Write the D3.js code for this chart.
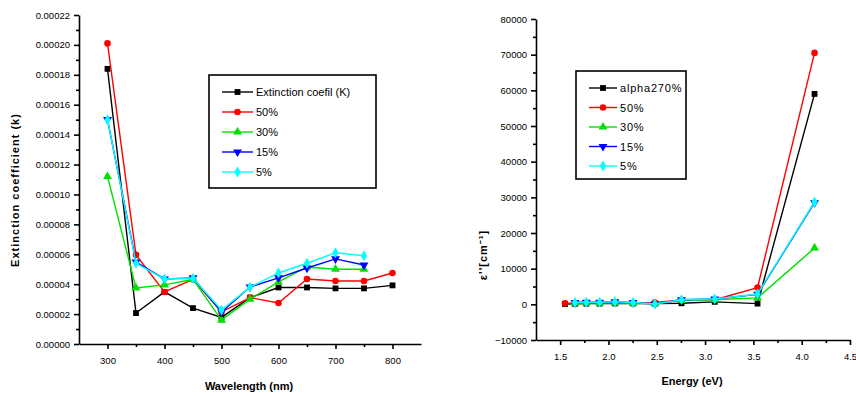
<!DOCTYPE html>
<html>
<head>
<meta charset="UTF-8">
<script src="https://d3js.org/d3.v7.min.js"></script>
<style>
  body { margin: 0; background: #fff; }
  svg { font-family: 'Liberation Sans', Arial, sans-serif; }
  .axis path, .axis line { stroke: #000; stroke-width: 1.6; }
  .axis text { font-size: 9.5px; fill: #000; }
</style>
</head>
<body>
<svg id="chart" width="856" height="397"></svg>
<script>
// left panel: extinction coefficient vs wavelength
const wavelengths = [300, 350, 400, 450, 500, 550, 600, 650, 700, 750, 800];
const kBlack = [0.000184, 0.0000207, 0.0000348, 0.000024, 0.0000178, 0.000031, 0.0000378, 0.0000378, 0.0000372, 0.0000372, 0.0000392];
const k50 = [0.000201, 0.0000596, 0.0000348, 0.0000432, 0.0000214, 0.000031, 0.0000274, 0.0000435, 0.0000421, 0.0000421, 0.0000475];
const k30 = [0.000112, 0.0000375, 0.0000395, 0.0000432, 0.000016, 0.00003, 0.0000415, 0.0000515, 0.00005, 0.00005];
const k15 = [0.00015, 0.0000548, 0.0000435, 0.0000442, 0.0000214, 0.0000381, 0.0000442, 0.0000508, 0.0000569, 0.0000528];
const k5 = [0.00015, 0.000054, 0.0000435, 0.000044, 0.0000227, 0.000038, 0.0000475, 0.000054, 0.000061, 0.000059];
const leftNames = ["Extinction coefil (K)", "50%", "30%", "15%", "5%"];
const leftYTicks = [0, 0.00002, 0.00004, 0.00006, 0.00008, 0.0001, 0.00012, 0.00014, 0.00016, 0.00018, 0.0002, 0.00022];
const leftXTicks = [300, 400, 500, 600, 700, 800];

// right panel: epsilon'' vs energy
const energies = [1.55, 1.653, 1.771, 1.908, 2.067, 2.255, 2.48, 2.756, 3.1, 3.543, 4.133];
const eBlack = [100, 150, 200, 200, 250, 250, 200, 300, 700, 200, 59000];
const e50 = [300, 300, 400, 400, 400, 300, 500, 1200, 1300, 4700, 70500];
const e30 = [300, 400, 400, 400, 300, 200, 1100, 1300, 1800, 15800];
const e15 = [500, 600, 600, 700, 500, 100, 1300, 1500, 2800, 28500];
const e5 = [500, 600, 600, 700, 500, 100, 1300, 1500, 2900, 28700];
const rightNames = ["alpha270%", "50%", "30%", "15%", "5%"];
const rightYTicks = [-10000, 0, 10000, 20000, 30000, 40000, 50000, 60000, 70000, 80000];
const rightXTicks = [1.5, 2.0, 2.5, 3.0, 3.5, 4.0, 4.5];

const colors = ["#000000", "#ff0000", "#00e000", "#0000ff", "#00ffff"];
const symbols = [d3.symbolSquare, d3.symbolCircle, d3.symbolTriangle, d3.symbolTriangle, d3.symbolDiamond];
const flips = [false, false, false, true, false];

const svg = d3.select("#chart");

function drawPanel(opt) {
  const x = d3.scaleLinear().domain(opt.xDomain).range(opt.xRange);
  const y = d3.scaleLinear().domain(opt.yDomain).range(opt.yRange);
  const g = svg.append("g");

  // minor ticks
  g.append("g").attr("class", "axis").attr("transform", `translate(0,${opt.yRange[0]})`)
    .call(d3.axisBottom(x).tickValues(opt.xMinor).tickSize(3).tickFormat(""))
    .select("path").remove();
  g.append("g").attr("class", "axis").attr("transform", `translate(${opt.xRange[0]},0)`)
    .call(d3.axisLeft(y).tickValues(opt.yMinor).tickSize(3).tickFormat(""))
    .select("path").remove();

  g.append("g").attr("class", "axis").attr("transform", `translate(0,${opt.yRange[0]})`)
    .call(d3.axisBottom(x).tickValues(opt.xTicks).tickSize(5).tickSizeOuter(0).tickFormat(opt.xFormat).tickPadding(8));
  g.append("g").attr("class", "axis").attr("transform", `translate(${opt.xRange[0]},0)`)
    .call(d3.axisLeft(y).tickValues(opt.yTicks).tickSize(5).tickSizeOuter(0).tickFormat(opt.yFormat).tickPadding(4));

  opt.series.forEach((s, i) => {
    const xs = opt.alignEnd ? opt.xs.slice(opt.xs.length - s.length) : opt.xs.slice(0, s.length);
    const pts = s.map((v, j) => [xs[j], v]);
    g.append("path")
      .attr("fill", "none")
      .attr("stroke", colors[i])
      .attr("stroke-width", 1.4)
      .attr("d", d3.line().x(d => x(d[0])).y(d => y(d[1]))(pts));
    g.selectAll(null).data(pts).enter().append("path")
      .attr("transform", d => `translate(${x(d[0])},${y(d[1])})${flips[i] ? " rotate(180)" : ""}`)
      .attr("d", d3.symbol().type(symbols[i]).size(34))
      .attr("fill", colors[i]);
  });

  // legend
  const lg = g.append("g");
  lg.append("rect")
    .attr("x", opt.legend.x).attr("y", opt.legend.y)
    .attr("width", opt.legend.w).attr("height", opt.legend.h)
    .attr("fill", "#fff").attr("stroke", "#000").attr("stroke-width", 1.6);
  opt.names.forEach((n, i) => {
    const ly = opt.legend.y + 17 + i * opt.legend.step;
    const lx = opt.legend.x + 13;
    lg.append("line").attr("x1", lx).attr("x2", lx + opt.legend.line)
      .attr("y1", ly).attr("y2", ly).attr("stroke", colors[i]).attr("stroke-width", 1.4);
    lg.append("path")
      .attr("transform", `translate(${lx + opt.legend.line / 2},${ly})${flips[i] ? " rotate(180)" : ""}`)
      .attr("d", d3.symbol().type(symbols[i]).size(34))
      .attr("fill", colors[i]);
    lg.append("text").attr("x", lx + opt.legend.line + 3).attr("y", ly + 4)
      .attr("font-size", 11).attr("letter-spacing", opt.legend.spacing)
      .text(n);
  });

  g.append("text")
    .attr("x", opt.xTitle.x).attr("y", opt.xTitle.y)
    .attr("text-anchor", "middle").attr("font-size", 11).attr("font-weight", "bold")
    .text(opt.xTitle.text);
  g.append("text")
    .attr("transform", `translate(${opt.yTitle.x},${opt.yTitle.y}) rotate(-90)`)
    .attr("text-anchor", "middle").attr("font-size", 11).attr("font-weight", "bold")
    .attr("letter-spacing", 1)
    .text(opt.yTitle.text);
}

drawPanel({
  xDomain: [250, 850], xRange: [79, 421],
  yDomain: [0, 0.00022], yRange: [344, 15],
  xTicks: leftXTicks, xMinor: [350, 450, 550, 650, 750],
  yTicks: leftYTicks, yMinor: leftYTicks.slice(0, -1).map(v => v + 0.00001),
  xFormat: d3.format("d"), yFormat: d3.format(".5f"),
  xs: wavelengths, alignEnd: false,
  series: [kBlack, k50, k30, k15, k5],
  names: leftNames,
  legend: { x: 209, y: 75, w: 167, h: 113, step: 20, line: 31, spacing: 0 },
  xTitle: { x: 249, y: 390, text: "Wavelength (nm)" },
  yTitle: { x: 19, y: 190, text: "Extinction coefficient (k)" }
});

drawPanel({
  xDomain: [1.25, 4.5], xRange: [536, 850],
  yDomain: [-10000, 80000], yRange: [340, 19],
  xTicks: rightXTicks, xMinor: [1.75, 2.25, 2.75, 3.25, 3.75, 4.25],
  yTicks: rightYTicks, yMinor: rightYTicks.slice(0, -1).map(v => v + 5000),
  xFormat: d3.format(".1f"), yFormat: d3.format("d"),
  xs: energies, alignEnd: true,
  series: [eBlack, e50, e30, e15, e5],
  names: rightNames,
  legend: { x: 576, y: 71, w: 110, h: 108, step: 19.5, line: 28, spacing: 0.8 },
  xTitle: { x: 692, y: 385, text: "Energy (eV)" },
  yTitle: { x: 487, y: 255, text: "ε''[cm⁻¹]" }
});
</script>
</body>
</html>
